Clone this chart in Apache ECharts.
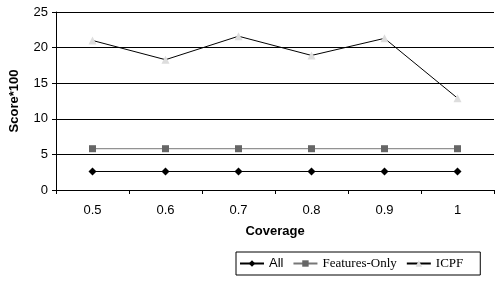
<!DOCTYPE html>
<html><head><meta charset="utf-8">
<script src="https://cdn.jsdelivr.net/npm/echarts@6/dist/echarts.min.js"></script>
<style>html,body{margin:0;padding:0;background:#fff}#c{width:498px;height:281px}</style>
</head><body><div id="c"></div>
<script>
var categories = ['0.5', '0.6', '0.7', '0.8', '0.9', '1'];
var allValues = [2.6, 2.6, 2.6, 2.6, 2.6, 2.6];
var featuresOnlyValues = [5.8, 5.8, 5.8, 5.8, 5.8, 5.8];
var icpfValues = [21.0, 18.3, 21.6, 18.9, 21.3, 12.9];
var yTicks = [0, 5, 10, 15, 20, 25];

var chart = echarts.init(document.getElementById('c'));
chart.setOption({
  animation: false,
  backgroundColor: '#fff',
  grid: {left: 52, right: 4, top: 12, bottom: 91},
  legend: {
    left: 236, top: 252,
    itemWidth: 24, itemHeight: 8, itemGap: 9,
    padding: [5, 17, 5, 3],
    borderColor: '#000', borderWidth: 1,
    data: [
      {name: 'All', textStyle: {fontFamily: 'Liberation Sans', fontSize: 13, color: '#000'}},
      {name: 'Features-Only', textStyle: {fontFamily: 'Liberation Serif', fontSize: 13, color: '#000'}},
      {name: 'ICPF', textStyle: {fontFamily: 'Liberation Serif', fontSize: 13, color: '#000'}}
    ]
  },
  xAxis: {
    type: 'category', data: categories, boundaryGap: true,
    name: 'Coverage', nameLocation: 'middle', nameGap: 35,
    nameTextStyle: {fontFamily: 'Liberation Sans', fontWeight: 'bold', fontSize: 13, color: '#000'},
    axisLine: {lineStyle: {color: '#000', width: 1}},
    axisTick: {show: true, length: 4, inside: false, lineStyle: {color: '#000'}},
    axisLabel: {fontFamily: 'Liberation Sans', fontSize: 13, color: '#000', margin: 14},
    splitLine: {show: false}
  },
  yAxis: {
    type: 'value', min: yTicks[0], max: yTicks[yTicks.length - 1], interval: 5,
    name: 'Score*100', nameLocation: 'middle', nameGap: 35, nameRotate: 90,
    nameTextStyle: {fontFamily: 'Liberation Sans', fontWeight: 'bold', fontSize: 13, color: '#000'},
    axisLine: {show: true, lineStyle: {color: '#000', width: 1}},
    axisTick: {show: true, length: 4, lineStyle: {color: '#000'}},
    axisLabel: {fontFamily: 'Liberation Sans', fontSize: 13, color: '#000', margin: 8},
    splitLine: {show: true, lineStyle: {color: '#000', width: 1}}
  },
  series: [
    {name: 'All', type: 'line', data: allValues, symbol: 'diamond', symbolSize: 8,
     itemStyle: {color: '#000'}, lineStyle: {color: '#000', width: 1}},
    {name: 'Features-Only', type: 'line', data: featuresOnlyValues, symbol: 'rect', symbolSize: 7,
     itemStyle: {color: '#666'}, lineStyle: {color: '#777', width: 1}},
    {name: 'ICPF', type: 'line', data: icpfValues, symbol: 'triangle', symbolSize: 8,
     itemStyle: {color: '#ddd'}, lineStyle: {color: '#000', width: 1}}
  ]
});
</script></body></html>
